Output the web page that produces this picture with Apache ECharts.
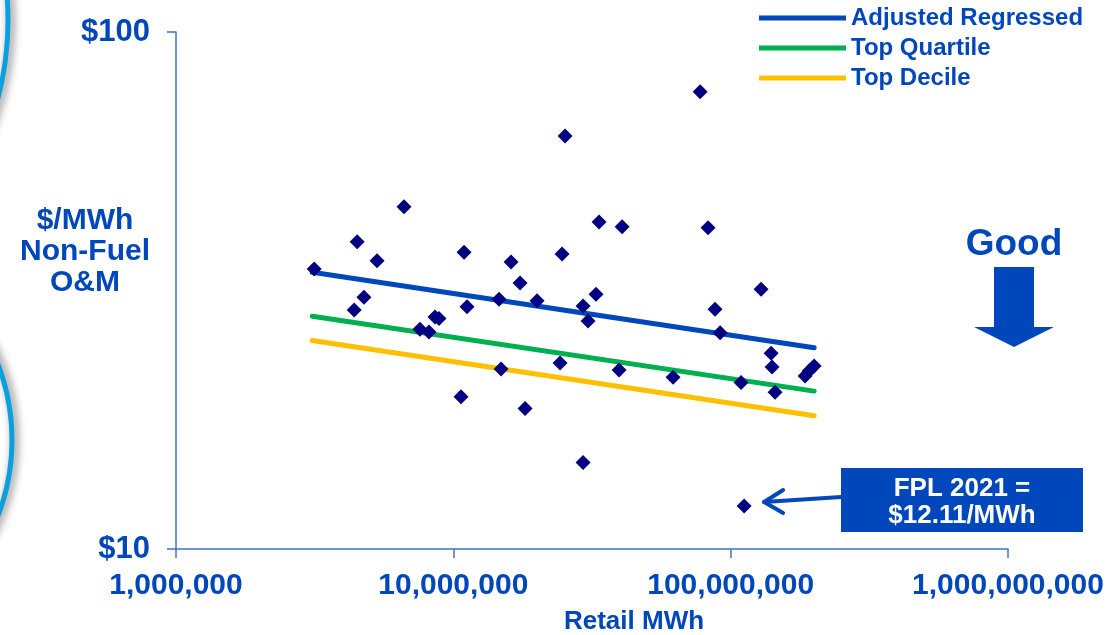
<!DOCTYPE html>
<html>
<head>
<meta charset="utf-8">
<script src="https://cdn.jsdelivr.net/npm/echarts@6/dist/echarts.min.js"></script>
<style>
html,body{margin:0;padding:0;background:#fff;}
#chart{width:1113px;height:635px;}
</style>
</head>
<body>
<div id="chart"></div>
<script>
// ---- data ----
const retailMWh = [3.15e6, 4.5e6, 6.64e6, 5.31e6, 4.39e6, 4.76e6, 7.58e6, 8.17e6, 8.59e6, 8.88e6,
  1.093e7, 1.12e7, 1.066e7, 1.462e7, 1.486e7, 1.615e7, 1.74e7, 1.814e7, 2.004e7, 2.426e7,
  2.466e7, 2.528e7, 2.936e7, 2.936e7, 3.06e7, 3.27e7, 3.353e7, 3.96e7, 4.06e7, 6.2e7,
  7.76e7, 8.29e7, 8.78e7, 9.16e7, 1.09e8, 1.287e8, 1.399e8, 1.41e8, 1.446e8, 1.855e8,
  1.917e8, 2.0e8];
const omCost = [34.8, 39.3, 45.9, 36.1, 29.0, 30.7, 26.6, 26.3, 28.1, 27.9,
  37.5, 29.4, 19.7, 30.4, 22.3, 35.9, 32.7, 18.7, 30.2, 22.9,
  37.2, 62.9, 29.5, 14.7, 27.6, 31.1, 42.9, 22.2, 42.0, 21.5,
  76.6, 41.8, 29.1, 26.2, 21.0, 31.8, 23.9, 22.5, 20.1, 21.6,
  22.1, 22.6];
const fplMWh = 1.118e8;
const fplCost = 12.11;

const lineMWh = [3.1e6, 2.0e8];
const adjustedRegressed = [34.3, 24.5];
const topQuartile = [28.2, 20.2];
const topDecile = [25.3, 18.1];

const seriesNames = ['Adjusted Regressed', 'Top Quartile', 'Top Decile'];
const xTickLabels = ['1,000,000', '10,000,000', '100,000,000', '1,000,000,000'];
const yTickLabels = ['$10', '$100'];
const yAxisTitle = '$/MWh\nNon-Fuel\nO&M';
const xAxisTitle = 'Retail MWh';
const calloutText = 'FPL 2021 =\n$12.11/MWh';
const goodText = 'Good';

// ---- styles ----
const FONT = '"Liberation Sans", Arial, sans-serif';
const BLUE = '#0047BB';
const AXIS = '#4472C4';
const NAVY = '#000080';
const lineColors = ['#0047BB', '#00B050', '#FFC000'];

const chart = echarts.init(document.getElementById('chart'), null, {renderer: 'canvas'});

function pairs(xs, ys) { return xs.map((x, i) => [x, ys[i]]); }
const lineData = [adjustedRegressed, topQuartile, topDecile];

const option = {
  animation: false,
  backgroundColor: '#ffffff',
  textStyle: {fontFamily: FONT},
  grid: {left: 176, right: 105, top: 32, bottom: 86, containLabel: false},
  legend: {
    orient: 'vertical',
    left: 759,
    top: 3,
    padding: 0,
    itemGap: 0,
    itemWidth: 87,
    itemHeight: 5,
    icon: 'rect',
    data: seriesNames,
    textStyle: {fontSize: 24, fontWeight: 'bold', color: BLUE, lineHeight: 30, fontFamily: FONT}
  },
  xAxis: {
    type: 'log', logBase: 10, min: 1e6, max: 1e9,
    axisLine: {show: true, lineStyle: {color: AXIS, width: 1.5}},
    axisTick: {show: true, length: 9, lineStyle: {color: AXIS, width: 1.5}},
    splitLine: {show: false},
    axisLabel: {
      margin: 22, fontSize: 30, fontWeight: 'bold', color: BLUE, fontFamily: FONT,
      formatter: v => xTickLabels[Math.round(Math.log10(v)) - 6] || ''
    }
  },
  yAxis: {
    type: 'log', logBase: 10, min: 10, max: 100,
    axisLine: {show: true, lineStyle: {color: AXIS, width: 1.5}},
    axisTick: {show: true, length: 9, lineStyle: {color: AXIS, width: 1.5}},
    splitLine: {show: false},
    axisLabel: {
      margin: 26, fontSize: 31, fontWeight: 'bold', color: BLUE, fontFamily: FONT,
      formatter: v => yTickLabels[Math.round(Math.log10(v)) - 1] || ''
    }
  },
  series: seriesNames.map((name, i) => ({
    name: name,
    type: 'line',
    data: pairs(lineMWh, lineData[i]),
    showSymbol: false,
    symbol: 'none',
    z: 2,
    lineStyle: {color: lineColors[i], width: 5, cap: 'round'},
    itemStyle: {color: lineColors[i]}
  })).concat([
    {
      name: 'Utilities',
      type: 'scatter',
      symbol: 'diamond',
      symbolSize: 15,
      z: 5,
      itemStyle: {color: NAVY, opacity: 1},
      data: pairs(retailMWh, omCost)
    },
    {
      name: 'FPL',
      type: 'scatter',
      symbol: 'diamond',
      symbolSize: 15,
      z: 5,
      itemStyle: {color: NAVY, opacity: 1},
      data: [[fplMWh, fplCost]]
    }
  ])
};
chart.setOption(option);

// annotations
const fplPx = chart.convertToPixel({gridIndex: 0}, [fplMWh, fplCost]);
const tipX = fplPx[0] + 20, tipY = fplPx[1] - 4;
chart.setOption({
  graphic: [
    // decorative slide rings at left edge
    {type: 'circle', shape: {cx: -300, cy: 20, r: 308}, silent: true,
      style: {fill: 'none', stroke: '#0AA0E0', lineWidth: 5, shadowBlur: 8, shadowColor: 'rgba(0,0,0,0.55)', shadowOffsetX: 3}},
    {type: 'circle', shape: {cx: -200, cy: 440, r: 212}, silent: true,
      style: {fill: 'none', stroke: '#0AA0E0', lineWidth: 5, shadowBlur: 8, shadowColor: 'rgba(0,0,0,0.55)', shadowOffsetX: 3}},
    // y axis title
    {type: 'text', x: 85, y: 252, silent: true,
      style: {text: yAxisTitle, fill: BLUE, font: 'bold 30px ' + FONT, textAlign: 'center', textVerticalAlign: 'middle', lineHeight: 31}},
    // x axis title
    {type: 'text', x: 634, y: 622, silent: true,
      style: {text: xAxisTitle, fill: BLUE, font: 'bold 26px ' + FONT, textAlign: 'center', textVerticalAlign: 'middle'}},
    // Good label and arrow
    {type: 'text', x: 1014, y: 245, silent: true,
      style: {text: goodText, fill: BLUE, font: 'bold 37px ' + FONT, textAlign: 'center', textVerticalAlign: 'middle'}},
    {type: 'polygon', silent: true,
      shape: {points: [[994, 267], [1034, 267], [1034, 327], [1054, 327], [1014, 347], [974, 327], [994, 327]]},
      style: {fill: BLUE}},
    // FPL callout box
    {type: 'rect', silent: true, shape: {x: 841, y: 468, width: 242, height: 64}, style: {fill: BLUE}},
    {type: 'text', x: 962, y: 502, silent: true,
      style: {text: calloutText, fill: '#ffffff', font: 'bold 26px ' + FONT, textAlign: 'center', textVerticalAlign: 'middle', lineHeight: 27}},
    {type: 'polyline', silent: true, shape: {points: [[841, 497], [tipX, tipY]]},
      style: {stroke: BLUE, lineWidth: 4, lineCap: 'round', fill: 'none'}},
    {type: 'polyline', silent: true, shape: {points: [[tipX + 19, tipY - 12], [tipX, tipY], [tipX + 19, tipY + 11]]},
      style: {stroke: BLUE, lineWidth: 4, lineCap: 'round', lineJoin: 'round', fill: 'none'}}
  ]
});
</script>
</body>
</html>
